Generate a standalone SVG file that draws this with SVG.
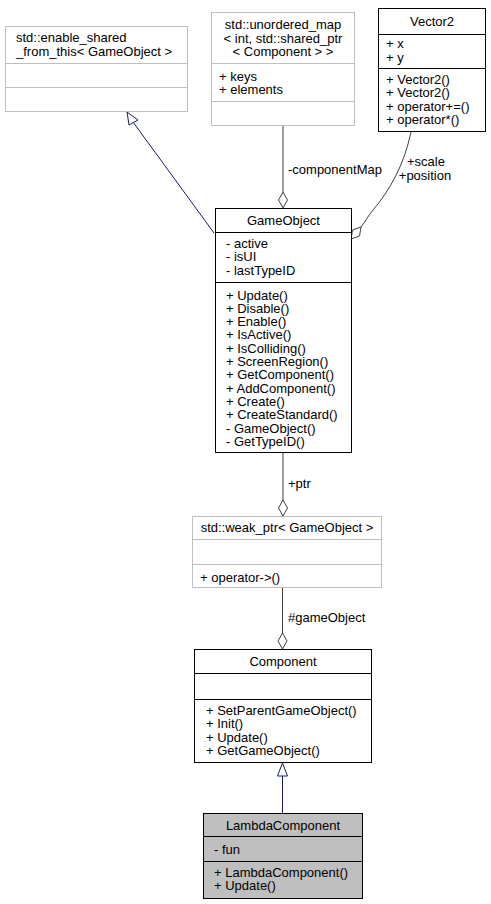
<svg xmlns="http://www.w3.org/2000/svg" width="491" height="904" viewBox="0 0 491 904">
<style>
text{font-family:"Liberation Sans",Arial,sans-serif;font-size:13px;fill:#000}
.c{text-anchor:middle}
.gbox{fill:#fff;stroke:#bfbfbf;stroke-width:1}
.bbox{fill:#fff;stroke:#000;stroke-width:1}
.sel{fill:#bfbfbf;stroke:#000;stroke-width:1}
.gl{stroke:#bfbfbf;stroke-width:1}
.bl{stroke:#000;stroke-width:1}
.agg{fill:none;stroke:#404040;stroke-width:1}
.aggh{fill:#fff;stroke:#404040;stroke-width:1}
.inh{fill:none;stroke:#191970;stroke-width:1}
.inhh{fill:#fff;stroke:#191970;stroke-width:1}
</style>
<rect width="491" height="904" fill="#fff"/>
<g id="connectors">
  <path class="inh" d="M214,233 L133,122"/>
  <polygon class="inhh" points="127,112 138,120 129,125"/>
  <path class="agg" d="M283,125 L283,192"/>
  <polygon class="aggh" points="283,192 287.5,200 283,208 278.5,200"/>
  <text x="288" y="174">-componentMap</text>
  <path class="agg" d="M411,132 C404,165 390,190 373,210 C368,216 365,222 361,227"/>
  <polygon class="aggh" points="351,239 352.5,230 361,227 359.5,236"/>
  <text class="c" x="426" y="166">+scale</text>
  <text class="c" x="425" y="180">+position</text>
  <path class="agg" d="M283,453 L283,500"/>
  <polygon class="aggh" points="283,500 287.5,508 283,516 278.5,508"/>
  <text x="288" y="488">+ptr</text>
  <path class="agg" d="M282.5,587 L282.5,633"/>
  <polygon class="aggh" points="282.5,633 287,641 282.5,649 278,641"/>
  <text x="288" y="622">#gameObject</text>
  <path class="inh" d="M282.5,813 L282.5,776"/>
  <polygon class="inhh" points="282.5,763 287.5,776 277.5,776"/>
</g>
<g id="enable_shared_from_this">
  <rect class="gbox" x="5.5" y="26.5" width="182" height="85"/>
  <line class="gl" x1="5.5" y1="63.5" x2="187.5" y2="63.5"/>
  <line class="gl" x1="5.5" y1="87.5" x2="187.5" y2="87.5"/>
  <text x="16" y="42">std::enable_shared</text>
  <text x="16" y="55.5">_from_this&lt; GameObject &gt;</text>
</g>
<g id="unordered_map">
  <rect class="gbox" x="211.5" y="12.5" width="143" height="113"/>
  <line class="gl" x1="211.5" y1="63.5" x2="354.5" y2="63.5"/>
  <line class="gl" x1="211.5" y1="101.5" x2="354.5" y2="101.5"/>
  <text class="c" x="283" y="29">std::unordered_map</text>
  <text class="c" x="283" y="42.5">&lt; int, std::shared_ptr</text>
  <text class="c" x="283" y="56">&lt; Component &gt; &gt;</text>
  <text x="219" y="80.5">+ keys</text>
  <text x="219" y="94">+ elements</text>
</g>
<g id="Vector2">
  <rect class="bbox" x="378.5" y="8.5" width="107" height="123"/>
  <line class="bl" x1="378.5" y1="34.5" x2="485.5" y2="34.5"/>
  <line class="bl" x1="378.5" y1="68.5" x2="485.5" y2="68.5"/>
  <text class="c" x="432" y="26">Vector2</text>
  <text x="386" y="48">+ x</text>
  <text x="386" y="61.5">+ y</text>
  <text x="386" y="84">+ Vector2()</text>
  <text x="386" y="97.3">+ Vector2()</text>
  <text x="386" y="110.6">+ operator+=()</text>
  <text x="386" y="124">+ operator*()</text>
</g>
<g id="GameObject">
  <rect class="bbox" x="215.5" y="208.5" width="136" height="244"/>
  <line class="bl" x1="215.5" y1="232.5" x2="351.5" y2="232.5"/>
  <line class="bl" x1="215.5" y1="282.5" x2="351.5" y2="282.5"/>
  <text class="c" x="283.5" y="225">GameObject</text>
  <text x="226" y="248">- active</text>
  <text x="226" y="261.3">- isUI</text>
  <text x="226" y="274.6">- lastTypeID</text>
  <text x="226" y="299.5">+ Update()</text>
  <text x="226" y="312.8">+ Disable()</text>
  <text x="226" y="326.1">+ Enable()</text>
  <text x="226" y="339.4">+ IsActive()</text>
  <text x="226" y="352.7">+ IsColliding()</text>
  <text x="226" y="366">+ ScreenRegion()</text>
  <text x="226" y="379.3">+ GetComponent()</text>
  <text x="226" y="392.6">+ AddComponent()</text>
  <text x="226" y="405.9">+ Create()</text>
  <text x="226" y="419.2">+ CreateStandard()</text>
  <text x="226" y="432.5">- GameObject()</text>
  <text x="226" y="445.8">- GetTypeID()</text>
</g>
<g id="weak_ptr">
  <rect class="gbox" x="192.5" y="516.5" width="189" height="71"/>
  <line class="gl" x1="192.5" y1="539.5" x2="381.5" y2="539.5"/>
  <line class="gl" x1="192.5" y1="564.5" x2="381.5" y2="564.5"/>
  <text class="c" x="287" y="532">std::weak_ptr&lt; GameObject &gt;</text>
  <text x="200" y="581.5">+ operator-&gt;()</text>
</g>
<g id="Component">
  <rect class="bbox" x="194.5" y="649.5" width="177" height="113"/>
  <line class="bl" x1="194.5" y1="673.5" x2="371.5" y2="673.5"/>
  <line class="bl" x1="194.5" y1="699.5" x2="371.5" y2="699.5"/>
  <text class="c" x="283" y="666">Component</text>
  <text x="206" y="715">+ SetParentGameObject()</text>
  <text x="206" y="728.3">+ Init()</text>
  <text x="206" y="741.6">+ Update()</text>
  <text x="206" y="755">+ GetGameObject()</text>
</g>
<g id="LambdaComponent">
  <rect class="sel" x="203.5" y="813.5" width="159" height="85"/>
  <line class="bl" x1="203.5" y1="836.5" x2="362.5" y2="836.5"/>
  <line class="bl" x1="203.5" y1="861.5" x2="362.5" y2="861.5"/>
  <text class="c" x="283" y="830">LambdaComponent</text>
  <text x="214" y="854">- fun</text>
  <text x="214" y="877">+ LambdaComponent()</text>
  <text x="214" y="890.3">+ Update()</text>
</g>
</svg>
